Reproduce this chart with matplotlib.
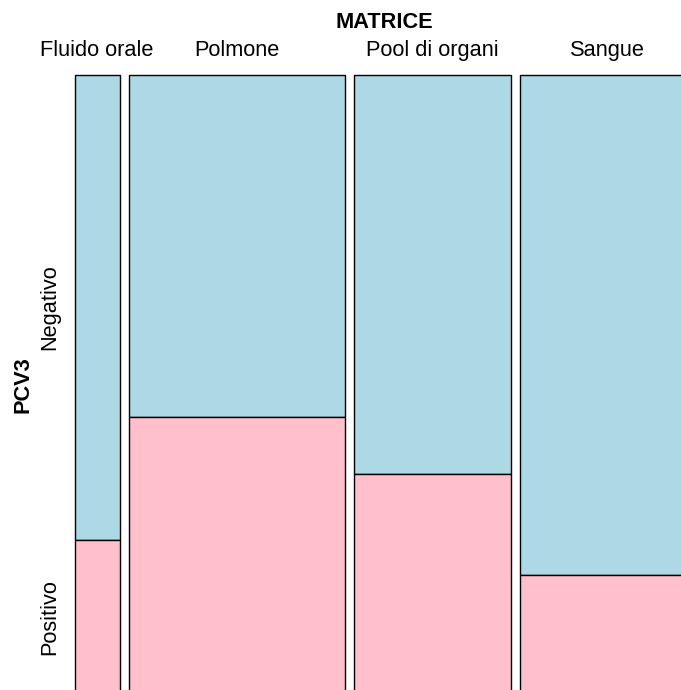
import numpy as np
import matplotlib
matplotlib.use('Agg')
import matplotlib.pyplot as plt
from matplotlib.patches import Rectangle

# conteggi per matrice
matrice = ["Fluido orale", "Polmone", "Pool di organi", "Sangue"]
negativo = [30, 106, 90, 125]
positivo = [10, 86, 50, 30]
livelli = ["Negativo", "Positivo"]

plt.rcParams['font.family'] = ['Liberation Sans', 'DejaVu Sans']
fs = 15.7

fig = plt.figure(figsize=(6.81, 6.90), dpi=100, facecolor="white")
ax = fig.add_axes([0, 0, 1, 1])
ax.set_xlim(0, 681)
ax.set_ylim(690, 0)
ax.axis("off")

# area del mosaico (in pixel), va oltre il bordo destro e inferiore
x0, x1 = 74.5, 695
y0, y1 = 75, 695
gap = 9

neg = np.array(negativo)
pos = np.array(positivo)
tot = neg + pos
unit = (x1 - x0 - gap * (len(tot) - 1)) / tot.sum()

x = x0
for i, nome in enumerate(matrice):
    w = tot[i] * unit
    hneg = neg[i] / tot[i] * (y1 - y0)
    ax.add_patch(Rectangle((x, y0), w, hneg, facecolor="lightblue",
                           edgecolor="black", lw=1))
    ax.add_patch(Rectangle((x, y0 + hneg), w, (y1 - y0) - hneg,
                           facecolor="pink", edgecolor="black", lw=1))
    ax.text(x + w / 2, 56, nome, ha="center", va="baseline", fontsize=fs)
    if i == 0:
        ax.text(55, y0 + hneg / 2, livelli[0], rotation=90, rotation_mode="anchor",
                ha="center", va="baseline", fontsize=fs)
        ax.text(55, (y0 + hneg + y1) / 2, livelli[1], rotation=90, rotation_mode="anchor",
                ha="center", va="baseline", fontsize=fs)
    x += w + gap

ax.text((x0 + x1) / 2, 28, "MATRICE", ha="center", va="baseline",
        fontsize=fs, fontweight="bold")
ax.text(28, (y0 + y1) / 2, "PCV3", rotation=90, rotation_mode="anchor",
        ha="center", va="baseline", fontsize=fs, fontweight="bold")

plt.savefig("out.png", dpi=100)
